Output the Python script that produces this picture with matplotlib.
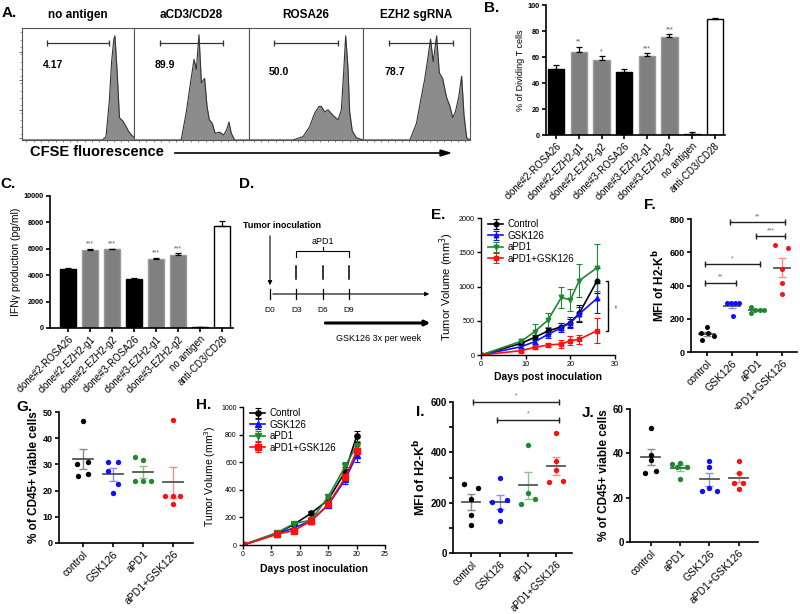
import numpy as np
import matplotlib.pyplot as plt

plt.rcParams['font.family'] = ['Liberation Sans', 'DejaVu Sans']

# ---- data ----
# A: CFSE histograms, x in % of box width, h as fraction of box height
hist_titles = ['no antigen', 'aCD3/CD28', 'ROSA26', 'EZH2 sgRNA']
hist_pct = ['4.17', '89.9', '50.0', '78.7']
hist1_x = [0, 72, 75, 78, 80, 82, 83, 85, 87, 90, 93, 95, 98, 100]
hist1_h = [0, 0, 0.03, 0.35, 0.7, 0.9, 0.93, 0.6, 0.2, 0.17, 0.12, 0.08, 0.04, 0.03]
hist2_x = [0, 41, 45.5, 49, 52.2, 54.2, 56.5, 58.6, 61.4, 63.5, 65.5, 68, 70.5, 74.5, 78, 80.5, 82.6, 84.6, 87.5, 100]
hist2_h = [0, 0, 0.25, 0.5, 0.72, 0.63, 0.94, 0.51, 0.55, 0.3, 0.18, 0.15, 0.06, 0.07, 0.045, 0.09, 0.16, 0.06, 0, 0]
hist3_x = [0, 38.6, 47.4, 53.2, 57.6, 61.4, 63.5, 66.4, 69.3, 73.7, 78.1, 81, 83, 84.8, 86.8, 88.3, 90.6, 94.2, 100]
hist3_h = [0, 0, 0.03, 0.12, 0.24, 0.3, 0.3, 0.25, 0.27, 0.22, 0.18, 0.27, 0.6, 0.93, 0.65, 0.25, 0.08, 0.02, 0]
hist4_x = [0, 43.8, 50, 53.8, 57.8, 60.9, 63.1, 65.6, 68.8, 71.3, 74.4, 78.1, 81.3, 83.8, 86.3, 89.4, 92.2, 94.4, 96.9, 100]
hist4_h = [0, 0, 0.15, 0.35, 0.55, 0.75, 0.9, 0.7, 0.93, 0.6, 0.55, 0.38, 0.3, 0.2, 0.25, 0.38, 0.57, 0.22, 0.02, 0]
gate_lo = [22.2, 22.3, 21.6, 24.4]
gate_hi = [77.8, 77.4, 78.1, 84.4]

# B / C: bar charts
clone_labels = ['clone#2-ROSA26', 'clone#2-EZH2-g1', 'clone#2-EZH2-g2', 'clone#3-ROSA26',
                'clone#3-EZH2-g1', 'clone#3-EZH2-g2', 'no antigen', 'anti-CD3/CD28']
b_vals = [51, 64, 57.5, 48.5, 60.5, 75.5, 1, 89.5]
b_errs = [2.5, 4, 3, 2.5, 2.5, 2, 1, 0.5]
b_stars = ['', '**', '*', '', '***', '***', '', '']
c_vals = [4450, 5900, 5950, 3700, 5250, 5550, 50, 7750]
c_errs = [120, 100, 60, 120, 60, 100, 20, 350]
c_stars = ['', '***', '***', '', '***', '***', '', '']

# D: schedule
d_days = [0, 3, 6, 9]
apd1_days = [3, 6, 9]

# E: tumour growth
e_days = [0, 9, 12, 15, 18, 20, 22, 26]
e_ctrl = [0, 170, 258, 350, 413, 472, 609, 1085]
e_ctrl_err = [0, 30, 40, 50, 50, 60, 120, 180]
e_gsk = [0, 121, 194, 300, 400, 470, 600, 828]
e_gsk_err = [0, 25, 35, 45, 70, 80, 100, 220]
e_pd1 = [0, 200, 340, 511, 842, 803, 1085, 1275]
e_pd1_err = [0, 30, 108, 107, 155, 160, 240, 340]
e_combo = [0, 63, 112, 146, 160, 209, 229, 355]
e_combo_err = [0, 15, 25, 30, 60, 70, 70, 180]

# H: tumour growth
h_days = [0, 6, 9, 12, 15, 18, 20]
h_ctrl = [0, 85, 150, 230, 327, 533, 787]
h_ctrl_err = [0, 10, 15, 15, 20, 35, 40]
h_gsk = [0, 80, 125, 175, 290, 475, 650]
h_gsk_err = [0, 10, 15, 15, 20, 30, 50]
h_pd1 = [0, 90, 155, 180, 350, 570, 720]
h_pd1_err = [0, 10, 15, 15, 20, 30, 35]
h_combo = [0, 78, 105, 175, 295, 490, 680]
h_combo_err = [0, 10, 15, 15, 20, 30, 40]

groups4 = ['control', 'GSK126', 'aPD1', 'aPD1+GSK126']
groups4_j = ['control', 'aPD1', 'GSK126', 'aPD1+GSK126']

# F: MFI of H2-Kb
f_vals = [[72, 116, 152, 112, 96], [297, 297, 293, 293, 217],
          [271, 237, 251, 251, 253], [644, 626, 500, 414, 349]]
f_jit = [[-0.2, -0.23, 0.0, 0.03, 0.27], [-0.2, -0.04, 0.12, 0.28, 0.05],
         [-0.24, -0.24, -0.07, 0.1, 0.26], [-0.27, 0.24, 0, 0, 0]]
f_sig = [(-0.1, 1.15, 417, '**'), (-0.1, 2.1, 530, '*'), (0.9, 3.1, 781, '**'), (1.97, 3.1, 695, '***')]

# G: % CD45+
g_vals = [[46.6, 30.0, 31.1, 25.6, 26.5], [31.1, 31.1, 27.3, 22.7, 18.9],
          [32.8, 31.8, 23.5, 23.7, 23.7], [46.8, 18.0, 17.8, 14.8, 18.1]]
g_jit = [[0, -0.19, 0.17, -0.17, 0.17], [-0.17, 0.17, -0.17, 0.17, 0],
         [-0.27, 0, -0.27, 0, 0.26], [0, -0.25, 0.25, 0, 0]]

# I: MFI of H2-Kb
i_vals = [[273, 260, 216, 152, 110], [298, 203, 209, 172, 127],
          [428, 240, 196, 213], [478, 364, 328, 282, 285]]
i_jit = [[-0.25, 0.25, 0, 0, 0], [0, -0.25, 0.25, 0, 0],
         [0, 0, -0.25, 0.25], [0, 0, 0, -0.25, 0.25]]
i_sig = [(0.08, 3.1, 600, '*'), (0.9, 3.1, 530, '*')]

# J: % CD45+
j_vals = [[51.5, 39.3, 37.0, 31.0, 32.1], [35.1, 35.8, 33.7, 33.7, 28.5],
          [36.7, 34.0, 23.1, 24.3, 23.1], [36.7, 26.8, 26.8, 24.0, 31.0]]
j_jit = [[0, 0, 0, -0.2, 0.2], [-0.26, 0, 0.25, -0.11, 0],
         [0, 0, -0.26, 0, 0.27], [0, -0.16, 0.15, 0, 0]]

# ---- drawing ----
W, H = 800, 614
fig = plt.figure(figsize=(8, 6.14), dpi=100)

BLUE = '#1010ff'
GREEN = '#1e8a30'
RED = '#ff1010'
GRAY = '#808080'
light = {'k': '#8a8a8a', BLUE: '#8c8cff', GREEN: '#86c48e', RED: '#ff8c8c'}


def box(x0, y0, x1, y1):
    return fig.add_axes([x0 / W, 1 - y1 / H, (x1 - x0) / W, (y1 - y0) / H])


def style(ax, lw=1.2):
    for s in ['top', 'right']:
        ax.spines[s].set_visible(False)
    for s in ['left', 'bottom']:
        ax.spines[s].set_linewidth(lw)
    ax.tick_params(direction='out', width=lw, length=3, pad=1.5)


def yticks(ax, ticks, size, bold=True):
    ax.set_yticks(ticks)
    ax.set_yticklabels([str(t) for t in ticks], fontsize=size,
                       fontweight='bold' if bold else 'normal')


def label(x, y, s):
    fig.text(x / W, 1 - y / H, s, fontsize=11, fontweight='bold', va='top', ha='left')


# A
hx = [hist1_x, hist2_x, hist3_x, hist4_x]
hh = [hist1_h, hist2_h, hist3_h, hist4_h]
edges = [22, 134, 249, 363, 470]
for k in range(4):
    ax = box(edges[k], 28, edges[k + 1], 140)
    ax.fill_between(hx[k], hh[k], color='#8c8c8c', lw=0)
    ax.plot(hx[k], hh[k], color='#333333', lw=0.8)
    ax.set_xlim(0, 100)
    ax.set_ylim(0, 1)
    for s in ax.spines.values():
        s.set_linewidth(0.8)
        s.set_color('#555555')
    ax.set_xticks(np.arange(4, 100, 6.5), minor=True)
    ax.set_xticks([])
    ax.tick_params(which='minor', axis='x', length=1.5, width=0.5, color='#555555')
    if k == 0:
        ax.set_yticks([0.015, 0.27, 0.54, 0.79])
        ax.set_yticks(np.arange(0.05, 1, 0.065), minor=True)
        ax.tick_params(axis='y', length=2.5, width=0.6, labelleft=False, color='#555555')
        ax.tick_params(axis='y', which='minor', length=1.2, width=0.4, color='#555555')
    else:
        ax.set_yticks([])
    ax.plot([gate_lo[k], gate_hi[k]], [0.866, 0.866], color='#333333', lw=0.9,
            marker='|', ms=5, mew=0.9)
    yy = 0.67 if k < 2 else 0.61
    ax.text(gate_lo[k] - 4, yy, hist_pct[k], fontsize=7.5, fontweight='bold', va='center')
    fig.text((edges[k] + edges[k + 1]) / 2 / W, 1 - 15 / H, hist_titles[k],
             fontsize=8.5, fontweight='bold', ha='center', va='center')
fig.text(30 / W, 1 - 152 / H, 'CFSE fluorescence', fontsize=10.5, fontweight='bold', va='center')
fig.add_artist(plt.Line2D([175 / W, 445 / W], [1 - 153 / H, 1 - 153 / H], color='k', lw=1.2))
fig.patches.append(plt.Polygon([[450 / W, 1 - 153 / H], [440 / W, 1 - 150 / H], [440 / W, 1 - 156 / H]],
                               closed=True, color='k', transform=fig.transFigure, figure=fig))
label(2, 6, 'A.')


# B and C
def bar_panel(ax, vals, errs, stars, ylim, ticks, off):
    x = np.arange(len(vals))
    cols = ['black', GRAY, GRAY, 'black', GRAY, GRAY, 'black', 'white']
    ecs = ['black', '#9a9a9a', '#9a9a9a', 'black', '#9a9a9a', '#9a9a9a', 'black', 'black']
    ax.bar(x, vals, width=0.72, color=cols, edgecolor=ecs, linewidth=1.0, zorder=2)
    ax.errorbar(x, vals, yerr=[np.zeros(len(errs)), errs], fmt='none', ecolor='k',
                elinewidth=0.9, capsize=2.2, capthick=0.9, zorder=3)
    for xi, v, e, s in zip(x, vals, errs, stars):
        if s:
            ax.text(xi, v + e + off, s, fontsize=4.8, color='#555555', ha='center', va='bottom')
    ax.set_ylim(*ylim)
    style(ax)
    yticks(ax, ticks, 5.2)
    ax.set_xticks(x)
    ax.set_xticklabels(clone_labels, rotation=45, ha='right', rotation_mode='anchor', fontsize=7)


ax = box(546, 5, 725, 135)
bar_panel(ax, b_vals, b_errs, b_stars, (0, 100), [0, 20, 40, 60, 80, 100], 0.8)
ax.set_xlim(-0.45, 7.45)
ax.set_ylabel('% of Dividing T cells', fontsize=6.5, labelpad=2)
label(484, 1, 'B.')

ax = box(50, 196, 233, 328)
bar_panel(ax, c_vals, c_errs, c_stars, (0, 10000), [0, 2000, 4000, 6000, 8000, 10000], 80)
ax.set_xlim(-0.82, 7.5)
ax.set_ylabel('IFN\u03b3 production (pg/ml)', fontsize=7.5, labelpad=2)
label(0, 177, 'C.')

# D schematic (axes in pixel units)
ax = box(240, 180, 450, 345)
ax.set_xlim(240, 450)
ax.set_ylim(345, 180)
ax.axis('off')
dx = lambda d: 270 + d * 26.3 / 3
ax.text(243, 225, 'Tumor inoculation', fontsize=6.5, fontweight='bold', va='center')
ax.annotate('', xy=(dx(0), 288), xytext=(dx(0), 233),
            arrowprops=dict(arrowstyle='-|>', lw=0.8, color='k', mutation_scale=6))
ax.annotate('', xy=(432, 294), xytext=(dx(0), 294),
            arrowprops=dict(arrowstyle='-|>', lw=0.8, color='k', mutation_scale=6))
for d in d_days:
    ax.plot([dx(d), dx(d)], [289, 299], color='k', lw=0.9)
    ax.text(dx(d), 310, 'D%d' % d, fontsize=6, ha='center', va='center')
for d in apd1_days:
    ax.plot([dx(d), dx(d)], [266, 279], color='k', lw=1.1)
ax.plot([dx(3), dx(3), dx(9), dx(9)], [257, 251, 251, 257], color='k', lw=0.8)
ax.plot([dx(6), dx(6)], [251, 247], color='k', lw=0.8)
ax.text(dx(6), 241, 'aPD1', fontsize=6.5, ha='center', va='center')
ax.annotate('', xy=(433, 323), xytext=(dx(6), 323),
            arrowprops=dict(arrowstyle='-|>', lw=2.2, color='k', mutation_scale=7))
ax.text(336, 334, 'GSK126 3x per week', fontsize=6.5, va='top')
label(239, 177, 'D.')


# E and H
def growth(ax, days, series, msize):
    marks = ['o', '^', 'v', 's']
    cols = ['k', BLUE, GREEN, RED]
    names = ['Control', 'GSK126', 'aPD1', 'aPD1+GSK126']
    for (v, e), m, c, n in zip(series, marks, cols, names):
        ax.errorbar(days, v, yerr=e, color=c, marker=m, ms=msize, lw=1.2,
                    elinewidth=0.8, capsize=2, capthick=0.8, label=n)
    style(ax, 1.0)
    ax.legend(loc='upper left', bbox_to_anchor=(0.0, 1.04), frameon=False, fontsize=7,
              handlelength=1.6, handletextpad=0.4, labelspacing=0.15, borderaxespad=0.3)


ax = box(481, 218, 615, 355)
growth(ax, e_days, [(e_ctrl, e_ctrl_err), (e_gsk, e_gsk_err), (e_pd1, e_pd1_err),
                    (e_combo, e_combo_err)], 3.3)
ax.set_xlim(0, 30)
ax.set_ylim(0, 2000)
ax.set_xticks([0, 10, 20, 30])
ax.set_xticklabels(['0', '10', '20', '30'], fontsize=5.2)
yticks(ax, [0, 500, 1000, 1500, 2000], 5.2, bold=False)
ax.plot([27.9, 28.5, 28.5, 27.9], [e_ctrl[-1], e_ctrl[-1], e_combo[-1], e_combo[-1]],
        color='k', lw=1, clip_on=False)
ax.text(30.6, (e_ctrl[-1] + e_combo[-1]) / 2, '**', fontsize=4.5, rotation=90,
        ha='center', va='center', color='#555555')
ax.set_ylabel('Tumor Volume (mm$^3$)', fontsize=8, labelpad=2)
ax.set_xlabel('Days post inoculation', fontsize=7.5, fontweight='bold', labelpad=3)
label(431, 208, 'E.')

ax = box(243, 407, 385, 545)
growth(ax, h_days, [(h_ctrl, h_ctrl_err), (h_gsk, h_gsk_err), (h_pd1, h_pd1_err),
                    (h_combo, h_combo_err)], 3.8)
ax.set_xlim(0, 25)
ax.set_ylim(0, 1000)
ax.set_xticks([0, 5, 10, 15, 20, 25])
ax.set_xticklabels(['0', '5', '10', '15', '20', '25'], fontsize=5)
yticks(ax, [0, 200, 400, 600, 800, 1000], 5, bold=False)
ax.set_ylabel('Tumor Volume (mm$^3$)', fontsize=7.5, labelpad=2)
ax.set_xlabel('Days post inoculation', fontsize=7.5, fontweight='bold', labelpad=4)
label(196, 398, 'H.')


# F, G, I, J dot plots
def dots(ax, vals, jit, cols, names, xlim, ylim, ticks, tsize, sig=(), ms=14, soff=0, lsize=7.5):
    for i, (v, j, c) in enumerate(zip(vals, jit, cols)):
        v = np.array(v, float)
        m = v.mean()
        se = v.std(ddof=1) / np.sqrt(len(v))
        ax.errorbar(i, m, yerr=se, fmt='none', ecolor=light[c], elinewidth=1,
                    capsize=3, capthick=1, zorder=2)
        ax.plot([i - 0.32, i + 0.32], [m, m], color='#555555', lw=1.3, zorder=2)
        ax.scatter(i + np.array(j), v, s=ms, color=c, zorder=3, linewidths=0)
    for x0, x1, y, s in sig:
        ax.plot([x0, x1], [y, y], color='#222222', lw=1, marker='|', ms=5, mew=1, clip_on=False)
        ax.text((x0 + x1) / 2, y + soff, s, fontsize=4.8, color='#666666', ha='center', va='bottom')
    style(ax)
    ax.set_xlim(*xlim)
    ax.set_ylim(*ylim)
    yticks(ax, ticks, tsize)
    ax.set_xticks(range(len(names)))
    ax.set_xticklabels(names, rotation=45, ha='right', rotation_mode='anchor', fontsize=lsize)


ax = box(691, 219, 797, 352)
dots(ax, f_vals, f_jit, ['k', BLUE, GREEN, RED], groups4, (-0.64, 3.6), (0, 800),
     [0, 200, 400, 600, 800], 6.5, f_sig, ms=13, soff=12)
ax.set_ylabel('MFI of H2-K$^\\mathbf{b}$', fontsize=8.5, fontweight='bold', labelpad=2)
label(644, 198, 'F.')

ax = box(59, 412, 193, 543)
dots(ax, g_vals, g_jit, ['k', BLUE, GREEN, RED], groups4, (-0.8, 3.67), (0, 50),
     [0, 10, 20, 30, 40, 50], 6.5, ms=15)
ax.set_ylabel('% of CD45+ viable cells', fontsize=8.5, fontweight='bold', labelpad=2)
label(16, 400, 'G.')

ax = box(453, 402, 572, 553)
dots(ax, i_vals, i_jit, ['k', BLUE, GREEN, RED], groups4, (-0.64, 3.55), (0, 600),
     [0, 200, 400, 600], 7, i_sig, ms=15, soff=10, lsize=7)
ax.set_yticks([100, 300, 500], minor=True)
ax.tick_params(which='minor', axis='y', length=3, width=1.2)
ax.set_ylabel('MFI of H2-K$^\\mathbf{b}$', fontsize=9, fontweight='bold', labelpad=2)
label(416, 405, 'I.')

ax = box(630, 409, 758, 542)
dots(ax, j_vals, j_jit, ['k', GREEN, BLUE, RED], groups4_j, (-0.7, 3.66), (0, 60),
     [0, 20, 40, 60], 7, ms=15)
ax.set_ylabel('% of CD45+ viable cells', fontsize=8.5, fontweight='bold', labelpad=2)
label(582, 406, 'J.')

fig.savefig('out.png', dpi=100)
